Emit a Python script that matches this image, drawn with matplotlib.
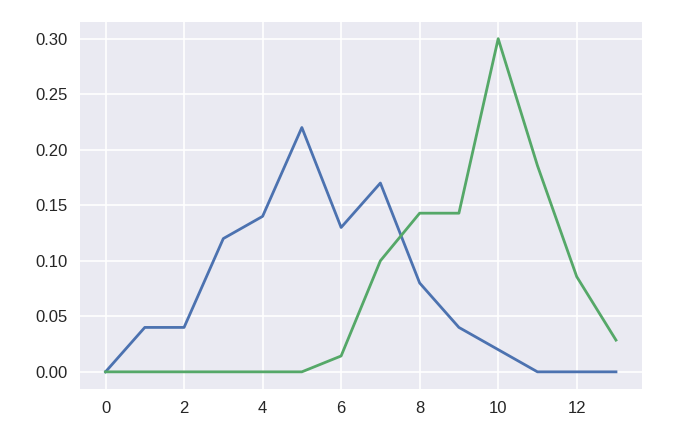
import numpy as np
import matplotlib
matplotlib.use("Agg")
import matplotlib.pyplot as plt

# values
x = list(range(14))
blue_vals = [0.0, 0.04, 0.04, 0.12, 0.14, 0.22, 0.13, 0.17, 0.08, 0.04, 0.02, 0.0, 0.0, 0.0]
green_vals = [0, 0, 0, 0, 0, 0, 1/70, 7/70, 10/70, 10/70, 21/70, 13/70, 6/70, 2/70]

plt.rcParams['font.family'] = ['Liberation Sans', 'DejaVu Sans']

fig = plt.figure(figsize=(6.78, 4.40), dpi=100)
ax = fig.add_axes([80/678, 51.5/440, 561.5/678, 366.5/440])
ax.set_facecolor('#EAEAF2')
for s in ax.spines.values():
    s.set_visible(False)
ax.grid(True, color='white', linewidth=1.2)
ax.set_axisbelow(True)

ax.plot(x, blue_vals, color='#4C72B0', linewidth=2.0)
ax.plot(x, green_vals, color='#55A868', linewidth=2.0)

ax.set_xticks([0, 2, 4, 6, 8, 10, 12])
ax.set_yticks([0.0, 0.05, 0.10, 0.15, 0.20, 0.25, 0.30])
ax.yaxis.set_major_formatter(matplotlib.ticker.FormatStrFormatter('%.2f'))
ax.tick_params(length=0, labelsize=12, labelcolor='#262626', pad=9)

fig.savefig('out.png', dpi=100)
